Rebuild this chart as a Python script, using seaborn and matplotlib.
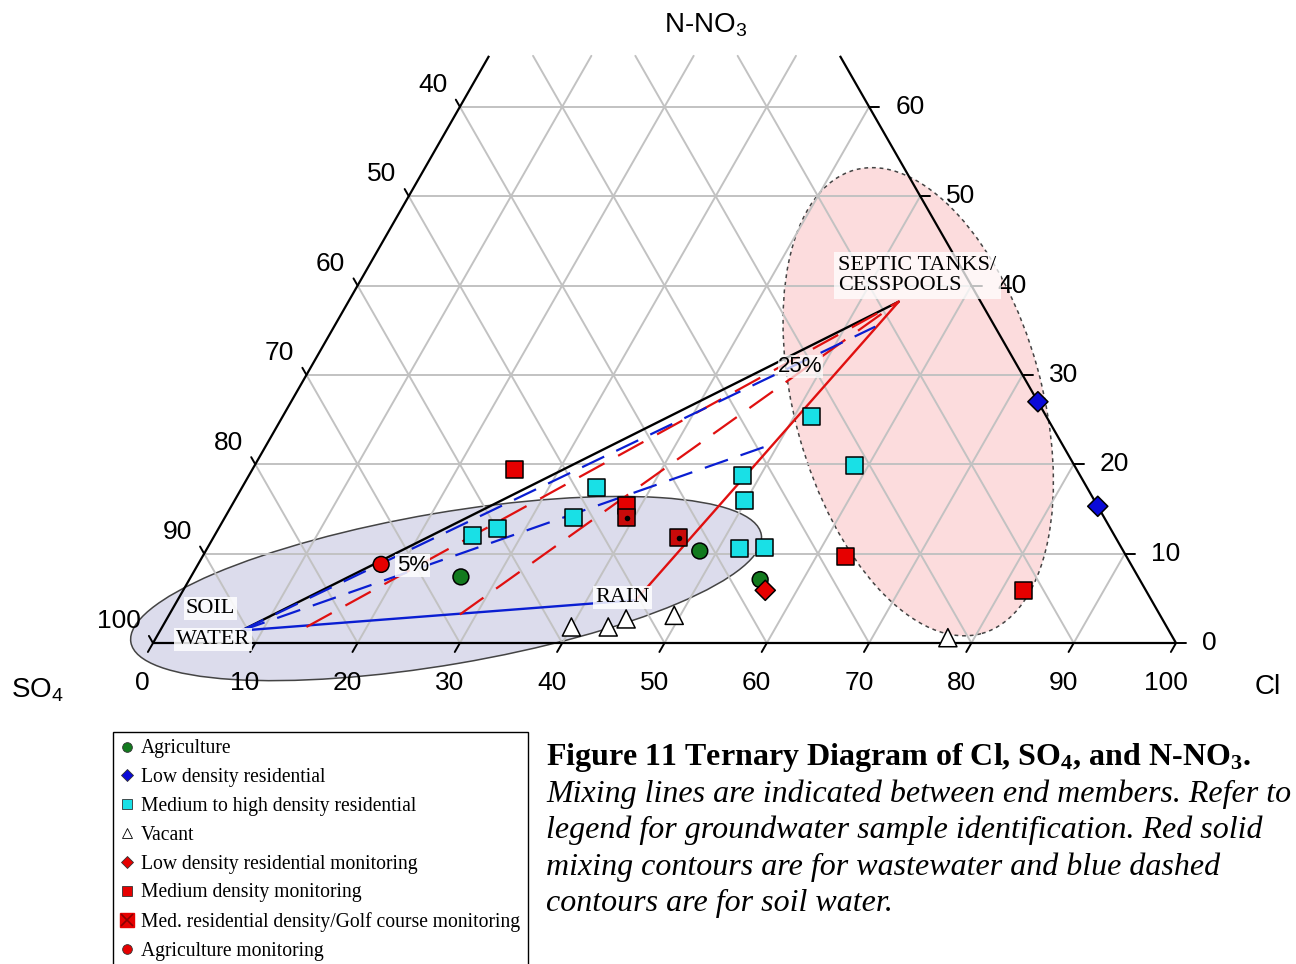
import numpy as np
import pandas as pd
import matplotlib
matplotlib.use("Agg")
import matplotlib.pyplot as plt
import seaborn as sns
from matplotlib.patches import Ellipse
from matplotlib.lines import Line2D
from matplotlib.legend_handler import HandlerTuple

# groundwater samples: Cl % and N-NO3 % (SO4 is the rest)
agri_cl = [26.4, 48.3, 55.8]
agri_no3 = [7.4, 10.3, 7.1]
low_res_cl = [73.0, 84.7]
low_res_no3 = [27.0, 15.3]
med_res_cl = [25.2, 27.3, 34.7, 34.1, 48.3, 49.9, 52.0, 54.4, 51.7, 58.6]
med_res_no3 = [12.0, 12.8, 17.4, 14.1, 18.7, 15.9, 10.6, 10.7, 25.4, 19.9]
vacant_cl = [40.0, 43.6, 44.9, 49.4, 77.4]
vacant_no3 = [1.8, 1.8, 2.7, 3.1, 0.6]
low_mon_cl = [56.9]
low_mon_no3 = [5.9]
med_mon_cl = [25.6, 38.6, 62.8, 82.1]
med_mon_no3 = [19.4, 15.4, 9.7, 5.9]
golf_cl = [39.3, 45.5]
golf_no3 = [14.0, 11.8]
agri_mon_cl = [17.9]
agri_mon_no3 = [8.8]

# end members (Cl, N-NO3)
soil = (7.95, 1.4)
rain = (44.8, 4.8)
septic = (53.8, 38.2)

# mixing lines: start and end (Cl, N-NO3)
red_dashed = [((14.1, 1.8), septic), ((28.4, 3.2), septic)]
blue_dashed = [(soil, (52.9, 35.4)), (soil, (49.5, 22.3))]

groups = ["Agriculture", "Low density residential", "Medium to high density residential",
          "Vacant", "Low density residential monitoring", "Medium density monitoring",
          "Med. residential density/Golf course monitoring", "Agriculture monitoring"]
group_cl = [agri_cl, low_res_cl, med_res_cl, vacant_cl, low_mon_cl, med_mon_cl, golf_cl, agri_mon_cl]
group_no3 = [agri_no3, low_res_no3, med_res_no3, vacant_no3, low_mon_no3, med_mon_no3, golf_no3, agri_mon_no3]

colors = {"Agriculture": "#127a1e", "Low density residential": "#0a0ad8",
          "Medium to high density residential": "#19e0e6", "Vacant": "white",
          "Low density residential monitoring": "#e60000", "Medium density monitoring": "#e60000",
          "Med. residential density/Golf course monitoring": "#c80a0a", "Agriculture monitoring": "#e60000"}
markers = {"Agriculture": "o", "Low density residential": "D",
           "Medium to high density residential": "s", "Vacant": "^",
           "Low density residential monitoring": "D", "Medium density monitoring": "s",
           "Med. residential density/Golf course monitoring": "s", "Agriculture monitoring": "o"}
sizes = {"Agriculture": 130, "Low density residential": 105,
         "Medium to high density residential": 150, "Vacant": 170,
         "Low density residential monitoring": 105, "Medium density monitoring": 150,
         "Med. residential density/Golf course monitoring": 150, "Agriculture monitoring": 130}

H = np.sqrt(3) / 2
NMAX = 65.7  # triangle is cut off at the top


def tern(cl, no3):
    cl = np.asarray(cl, float)
    no3 = np.asarray(no3, float)
    return cl + no3 / 2, no3 * H


sns.set_theme(style="white")
plt.rcParams["font.family"] = ["Liberation Sans", "DejaVu Sans"]
plt.rcParams["mathtext.default"] = "regular"
plt.rcParams["text.color"] = "black"

fig = plt.figure(figsize=(12.96, 9.64), dpi=100)
ax = fig.add_axes([0, 0, 1, 1])
ax.set_xlim(-14.956, 111.73)
ax.set_ylim(-31.10, 62.31)
ax.axis("off")

# envelopes
ex, ey = tern(61.3, 27.0)
ax.add_patch(Ellipse((ex, ey), 24.2, 46.6, angle=15.5, fc="#fcdcdd", ec="#444444",
                     ls=(0, (2.5, 2.5)), lw=1.1, zorder=0))
ex, ey = tern(25.6, 6.1)
ax.add_patch(Ellipse((ex, ey), 62.5, 14.7, angle=9.6, fc="#dcdcec", ec="#444444",
                     lw=1.1, zorder=0))

# grid
gc = "#c2c2c2"
for v in range(10, 100, 10):
    top = min(100 - v, NMAX)
    x, y = tern([v, v], [0, top])
    ax.plot(x, y, color=gc, lw=1.4, zorder=1)
    x, y = tern([100 - v, 100 - v - top], [0, top])
    ax.plot(x, y, color=gc, lw=1.4, zorder=1)
for n in range(10, 70, 10):
    x, y = tern([0, 100 - n], [n, n])
    ax.plot(x, y, color=gc, lw=1.4, zorder=1)

# triangle edges
for cl, no3 in [([0, 100], [0, 0]), ([0, 0], [0, NMAX]), ([100, 100 - NMAX], [0, NMAX])]:
    x, y = tern(cl, no3)
    ax.plot(x, y, color="black", lw=1.6, zorder=2, solid_capstyle="butt")

# ticks and tick labels
tk = dict(color="black", lw=1.4, zorder=2)
lab = dict(fontsize=19, color="black", zorder=2)
for c in range(0, 101, 10):
    x, y = tern(c, 0)
    ax.plot([x, x - 0.5], [y, y - H], **tk)
    ax.text(x - 1.0, y - 3.9, str(c), ha="center", va="center", **lab)
for s in range(40, 101, 10):
    x, y = tern(0, 100 - s)
    ax.plot([x, x - 0.4], [y, y + 0.8 * H], **tk)
    ax.text(x - 1.2, y + 2.1, str(s), ha="right", va="center", **lab)
for n in range(0, 61, 10):
    x, y = tern(100 - n, n)
    ax.plot([x, x + 1.0], [y, y], **tk)
    ax.text(x + 2.55, y, str(n), ha="left", va="center", **lab)

ax.text(54.0, 59.9, "N-NO$_3$", fontsize=20, ha="center", va="center")
ax.text(-11.3, -4.6, "SO$_4$", fontsize=20, ha="center", va="center")
ax.text(109.0, -4.3, "Cl", fontsize=20, ha="center", va="center")

# mixing lines
x, y = tern([soil[0], septic[0]], [soil[1], septic[1]])
ax.plot(x, y, color="black", lw=1.7, zorder=3)
x, y = tern([soil[0], rain[0]], [soil[1], rain[1]])
ax.plot(x, y, color="#0a1ed2", lw=1.7, zorder=3)
x, y = tern([rain[0], septic[0]], [rain[1], septic[1]])
ax.plot(x, y, color="#e01010", lw=1.7, zorder=3)
for a, b in red_dashed:
    x, y = tern([a[0], b[0]], [a[1], b[1]])
    ax.plot(x, y, color="#e01010", lw=1.6, dashes=(13, 7), zorder=3)
for a, b in blue_dashed:
    x, y = tern([a[0], b[0]], [a[1], b[1]])
    ax.plot(x, y, color="#0a1ed2", lw=1.6, dashes=(11, 6), zorder=3)

# samples
rows = []
for g, cl, no3 in zip(groups, group_cl, group_no3):
    x, y = tern(cl, no3)
    for xi, yi in zip(x, y):
        rows.append({"group": g, "x": xi, "y": yi})
df = pd.DataFrame(rows)
sns.scatterplot(data=df, x="x", y="y", hue="group", style="group", size="group",
                palette=colors, markers=markers, sizes=sizes, hue_order=groups,
                edgecolor="black", linewidth=1.1, legend=False, ax=ax, zorder=5)
gx, gy = tern(golf_cl, golf_no3)
sns.scatterplot(x=gx, y=gy, color="black", s=16, linewidth=0, legend=False, ax=ax, zorder=6)
ax.set_xlim(-14.956, 111.73)
ax.set_ylim(-31.10, 62.31)
ax.set_xlabel("")
ax.set_ylabel("")

# end member labels
box = dict(facecolor="white", edgecolor="none", pad=1.5, alpha=0.85)
serif = ["Liberation Serif", "DejaVu Serif"]
ax.text(5.6, 3.3, "SOIL", family=serif, fontsize=16, ha="center", va="center", bbox=box, zorder=4)
ax.text(5.9, 0.3, "WATER", family=serif, fontsize=16, ha="center", va="center", bbox=box, zorder=4)
ax.text(45.9, 4.4, "RAIN", family=serif, fontsize=16, ha="center", va="center", bbox=box, zorder=4)
ax.text(67.0, 35.6, "SEPTIC TANKS/\nCESSPOOLS", family=serif, fontsize=16, ha="left",
        va="center", linespacing=1.05, bbox=dict(facecolor="white", edgecolor="none", pad=3, alpha=0.75), zorder=4)
ax.text(25.4, 7.5, "5%", fontsize=16, ha="center", va="center",
        bbox=dict(facecolor="white", edgecolor="none", pad=1, alpha=0.85), zorder=4)
ax.text(63.3, 26.8, "25%", fontsize=16, ha="center", va="center",
        bbox=dict(facecolor="white", edgecolor="none", pad=0.5, alpha=0.7), zorder=4)

# legend
def mk(m, fc, size=7):
    return Line2D([], [], ls="none", marker=m, markersize=size, markerfacecolor=fc,
                  markeredgecolor="black" if fc == "white" else "#333333", markeredgewidth=0.6)

handles = [mk("o", colors[groups[0]]), mk("D", colors[groups[1]], 6), mk("s", colors[groups[2]]),
           mk("^", "white"), mk("D", colors[groups[4]], 6), mk("s", colors[groups[5]]),
           (Line2D([], [], ls="none", marker="s", markersize=10, markerfacecolor="#e60000",
                   markeredgecolor="#e60000"),
            Line2D([], [], ls="none", marker="x", markersize=9, markeredgecolor="#8a0000", markeredgewidth=1.2)),
           mk("o", colors[groups[7]])]
leg = fig.legend(handles, groups, loc="upper left", bbox_to_anchor=(113 / 1296, 1 - 732 / 964),
                 bbox_transform=fig.transFigure, frameon=True, fancybox=False, framealpha=1,
                 edgecolor="black", prop={"family": serif, "size": 14.1}, labelspacing=0.5,
                 handlelength=0.7, handletextpad=0.35, borderpad=0.38, borderaxespad=0,
                 handler_map={tuple: HandlerTuple(ndivide=1)})
leg.get_frame().set_linewidth(1.0)

# caption
fig.text(546 / 1296, 1 - 757 / 964, "Figure 11 Ternary Diagram of Cl, SO$_4$, and N-NO$_3$.",
         family=serif, fontsize=23, weight="bold", va="center", ha="left")
caption = ["Mixing lines are indicated between end members. Refer to",
           "legend for groundwater sample identification. Red solid",
           "mixing contours are for wastewater and blue dashed",
           "contours are for soil water."]
for i, line in enumerate(caption):
    fig.text(546 / 1296, 1 - (794 + 36.6 * i) / 964, line, family=serif, fontsize=23,
             style="italic", va="center", ha="left")

fig.savefig("out.png", dpi=100)
